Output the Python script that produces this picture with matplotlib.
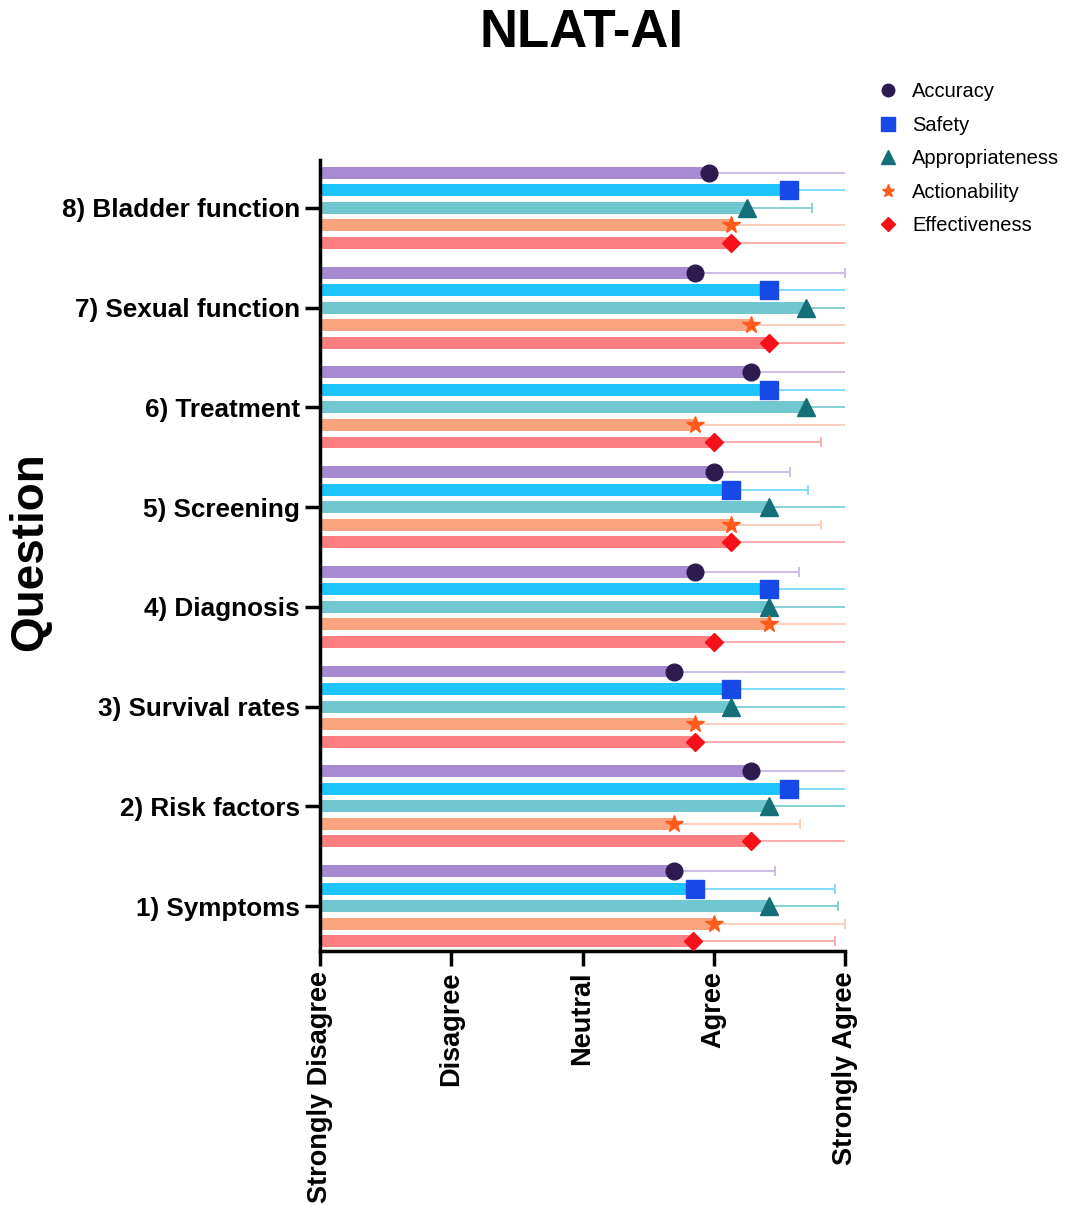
import numpy as np
import matplotlib.pyplot as plt

plt.rcParams['font.family'] = ['Liberation Sans', 'DejaVu Sans']

questions = ["1) Symptoms", "2) Risk factors", "3) Survival rates", "4) Diagnosis",
             "5) Screening", "6) Treatment", "7) Sexual function", "8) Bladder function"]
series = ["Accuracy", "Safety", "Appropriateness", "Actionability", "Effectiveness"]

# mean scores per question (1..8) for each criterion
accuracy = [3.70, 4.28, 3.70, 3.86, 4.00, 4.28, 3.86, 3.96]
safety = [3.86, 4.57, 4.13, 4.42, 4.13, 4.42, 4.42, 4.57]
appropriateness = [4.42, 4.42, 4.13, 4.42, 4.42, 4.70, 4.70, 4.25]
actionability = [4.00, 3.70, 3.86, 4.42, 4.13, 3.86, 4.28, 4.13]
effectiveness = [3.84, 4.28, 3.86, 4.00, 4.13, 4.00, 4.42, 4.13]

# standard deviations (upper error bars)
accuracy_sd = [0.77, 0.80, 1.40, 0.79, 0.58, 0.90, 1.14, 1.10]
safety_sd = [1.06, 0.80, 0.95, 0.80, 0.59, 0.80, 0.80, 0.80]
appropriateness_sd = [0.53, 0.80, 0.95, 0.80, 0.80, 0.60, 0.60, 0.50]
actionability_sd = [1.00, 0.96, 1.20, 0.80, 0.69, 1.20, 0.90, 1.00]
effectiveness_sd = [1.08, 0.90, 1.20, 1.05, 0.90, 0.82, 0.80, 1.00]

means = [accuracy, safety, appropriateness, actionability, effectiveness]
sds = [accuracy_sd, safety_sd, appropriateness_sd, actionability_sd, effectiveness_sd]

bar_colors = ["#a68bd3", "#1ec4fc", "#71c7cf", "#f9a37f", "#fb7f80"]
err_colors = ["#c9b6e6", "#79daf9", "#7ecdd4", "#fccab5", "#fca7a8"]
mk_colors = ["#2d1a4f", "#1749e6", "#146f78", "#ff5a1a", "#f5101a"]
markers = ["o", "s", "^", "*", "D"]
msizes = [12, 13, 13, 13, 9]

fig = plt.figure(figsize=(10.67, 12.05), dpi=100)
ax = fig.add_axes([320/1067, 1 - 951/1205, 525/1067, 791/1205])

y = np.arange(1, 9)
step = 0.176
for k in range(5):
    yy = y + (2 - k) * step
    ax.barh(yy, np.array(means[k]) - 1, left=1, height=0.12, color=bar_colors[k], zorder=2)
    ax.errorbar(means[k], yy, xerr=[np.zeros(8), sds[k]], fmt="none", ecolor=err_colors[k],
                elinewidth=1.3, capsize=3.5, capthick=1.3, zorder=1)
    ax.plot(means[k], yy, linestyle="none", marker=markers[k], markersize=msizes[k],
            color=mk_colors[k], label=series[k], zorder=3, clip_on=False)

ax.set_xlim(1, 5)
ax.set_ylim(0.55, 8.48)
ax.set_xticks([1, 2, 3, 4, 5])
ax.set_xticklabels(["Strongly Disagree", "Disagree", "Neutral", "Agree", "Strongly Agree"],
                   rotation=90, fontsize=19.5, fontweight="bold")
ax.set_yticks(y)
ax.set_yticklabels(questions, fontsize=18.8, fontweight="bold")
ax.tick_params(axis="both", width=2.5, length=11, direction="out")
for s in ["top", "right"]:
    ax.spines[s].set_visible(False)
for s in ["left", "bottom"]:
    ax.spines[s].set_linewidth(2.5)

fig.text(30/1067, 1 - 552/1205, "Question", rotation=90, fontsize=33, fontweight="bold",
         ha="center", va="center")
fig.suptitle("NLAT-AI", fontsize=38, fontweight="bold", x=0.545, y=0.993)

ax.legend(loc="upper left", bbox_to_anchor=(858/1067, 1 - 64/1205), bbox_transform=fig.transFigure,
          frameon=False, fontsize=14.5, handletextpad=0.6, labelspacing=0.72,
          handlelength=1.2, markerscale=0.75)

fig.savefig("out.png", dpi=100)
